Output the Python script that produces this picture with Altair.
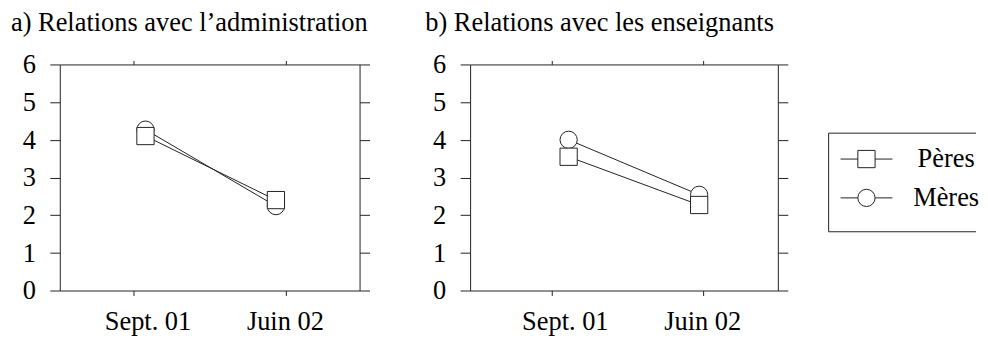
import altair as alt
import pandas as pd

FONT = "Liberation Serif"

series = ["Pères", "Mères"]
times = ["Sept. 01", "Juin 02"]
y_ticks = [0, 1, 2, 3, 4, 5, 6]

title_a = "a) Relations avec l’administration"
title_b = "b) Relations avec les enseignants"

admin_peres = [4.10, 2.40]
admin_meres = [4.27, 2.24]
ens_peres = [3.55, 2.27]
ens_meres = [4.00, 2.54]

INK = "#222222"
FS = 26.5


def make_df(peres, meres):
    rows = []
    # Mères first so squares (Pères) are drawn on top
    for s, vals in (("Mères", meres), ("Pères", peres)):
        for t, v in zip(times, vals):
            rows.append({"series": s, "time": t, "value": v})
    return pd.DataFrame(rows)


shape_scale = alt.Scale(domain=series, range=["square", "circle"])
one = pd.DataFrame({"k": [0]})
tick_df = pd.DataFrame({"v": y_ticks})


def panel(peres, meres, title, width, data_pa, label_pa, tick_pa, title_dx):
    df = make_df(peres, meres)
    base = alt.Chart(df)
    s_data = alt.Scale(type="point", domain=times, padding=data_pa[0], align=data_pa[1])
    s_label = alt.Scale(type="point", domain=times, padding=label_pa[0], align=label_pa[1])
    s_tick = alt.Scale(type="point", domain=times, padding=tick_pa[0], align=tick_pa[1])
    ys = alt.Scale(domain=[0, 6], nice=False, zero=True)

    lines = base.mark_line(color=INK, strokeWidth=1).encode(
        x=alt.X("time:N", scale=s_data, sort=times, axis=None),
        y=alt.Y("value:Q", scale=ys,
                axis=alt.Axis(orient="left", title=None, values=y_ticks,
                              labels=False, tickSize=10)),
        detail="series:N",
    )
    pts = base.mark_point(filled=True, fill="white", stroke=INK,
                          strokeWidth=1, size=300, opacity=1).encode(
        x=alt.X("time:N", scale=s_data, sort=times, axis=None),
        y=alt.Y("value:Q", scale=ys,
                axis=alt.Axis(orient="right", title=None, labels=False,
                              values=y_ticks, tickSize=10)),
        shape=alt.Shape("series:N", scale=shape_scale, legend=None),
    )
    # y tick labels, placed through the y scale
    ylab = alt.Chart(tick_df).mark_text(
        font=FONT, fontSize=FS, align="right", baseline="middle",
        color="black", dy=1
    ).encode(
        y=alt.Y("v:Q", scale=ys, axis=None),
        x=alt.value(-24),
        text=alt.Text("v:Q", format="d"),
    )
    lab_axis = base.mark_point(opacity=0).encode(
        x=alt.X("time:N", scale=s_label, sort=times,
                axis=alt.Axis(orient="bottom", title=None, labelAngle=0,
                              domain=False, ticks=True, tickOpacity=0,
                              tickSize=5, labelPadding=13)),
        y=alt.Y("value:Q", scale=ys, axis=None),
    )
    tick_bottom = base.mark_point(opacity=0).encode(
        x=alt.X("time:N", scale=s_tick, sort=times,
                axis=alt.Axis(orient="bottom", title=None, labels=False,
                              tickSize=5)),
        y=alt.Y("value:Q", scale=ys, axis=None),
    )
    tick_top = base.mark_point(opacity=0).encode(
        x=alt.X("time:N", scale=s_tick, sort=times,
                axis=alt.Axis(orient="top", title=None, labels=False,
                              tickSize=4)),
        y=alt.Y("value:Q", scale=ys, axis=None),
    )
    ttl = alt.Chart(one).mark_text(
        text=title, font=FONT, fontSize=FS, align="left",
        baseline="alphabetic", color="black"
    ).encode(x=alt.value(title_dx), y=alt.value(-34))
    return alt.layer(lines, pts, ylab, lab_axis, tick_bottom, tick_top, ttl).resolve_scale(
        x="independent"
    ).resolve_axis(
        x="independent", y="independent"
    ).properties(width=width, height=227)


pa = panel(admin_peres, admin_meres, title_a, 301,
           (0.649, 0.506), (0.591, 0.54), (0.484, 0.5), -49)
pb = panel(ens_peres, ens_meres, title_b, 309,
           (0.679, 0.556), (0.62, 0.556), (0.517, 0.52), -45)

# legend panel
LW = 148
leg_df = pd.DataFrame({"series": series})
ly = alt.Scale(type="point", domain=series, range=[95, 134], padding=0)
spacer = alt.Chart(one).mark_text(text=" ", font=FONT, fontSize=FS,
                                  align="left", baseline="alphabetic").encode(
    x=alt.value(0), y=alt.value(-34))
box_top = alt.Chart(one).mark_rule(color=INK, strokeWidth=1).encode(
    x=alt.value(0), x2=alt.value(LW), y=alt.value(69))
box_bot = alt.Chart(one).mark_rule(color=INK, strokeWidth=1).encode(
    x=alt.value(0), x2=alt.value(LW), y=alt.value(168))
box_left = alt.Chart(one).mark_rule(color=INK, strokeWidth=1).encode(
    x=alt.value(0), y=alt.value(69), y2=alt.value(168))
sym_line = alt.Chart(leg_df).mark_rule(color=INK, strokeWidth=1).encode(
    y=alt.Y("series:N", scale=ly, axis=None),
    x=alt.value(12), x2=alt.value(64))
sym_pt = alt.Chart(leg_df).mark_point(filled=True, fill="white", stroke=INK,
                                      strokeWidth=1, size=300, opacity=1).encode(
    y=alt.Y("series:N", scale=ly, axis=None),
    x=alt.value(38),
    shape=alt.Shape("series:N", scale=shape_scale, legend=None))
sym_txt = alt.Chart(leg_df).mark_text(font=FONT, fontSize=FS, align="center",
                                      baseline="middle", color="black").encode(
    y=alt.Y("series:N", scale=ly, axis=None),
    x=alt.value(118),
    text="series:N")
legend = alt.layer(spacer, box_top, box_bot, box_left, sym_line, sym_pt,
                   sym_txt).properties(width=LW, height=227)

chart = alt.hconcat(
    alt.hconcat(pa, pb, spacing=54), legend, spacing=39
).properties(
    padding={"left": 2, "top": 0, "right": 0, "bottom": 0}
).configure_view(stroke="transparent").configure_axis(
    labelFont=FONT, labelFontSize=FS, labelColor="black",
    domainColor=INK, tickColor=INK, domainWidth=1, tickWidth=1, grid=False,
)

chart.save("out.html", embed_options={"renderer": "svg", "actions": False})
